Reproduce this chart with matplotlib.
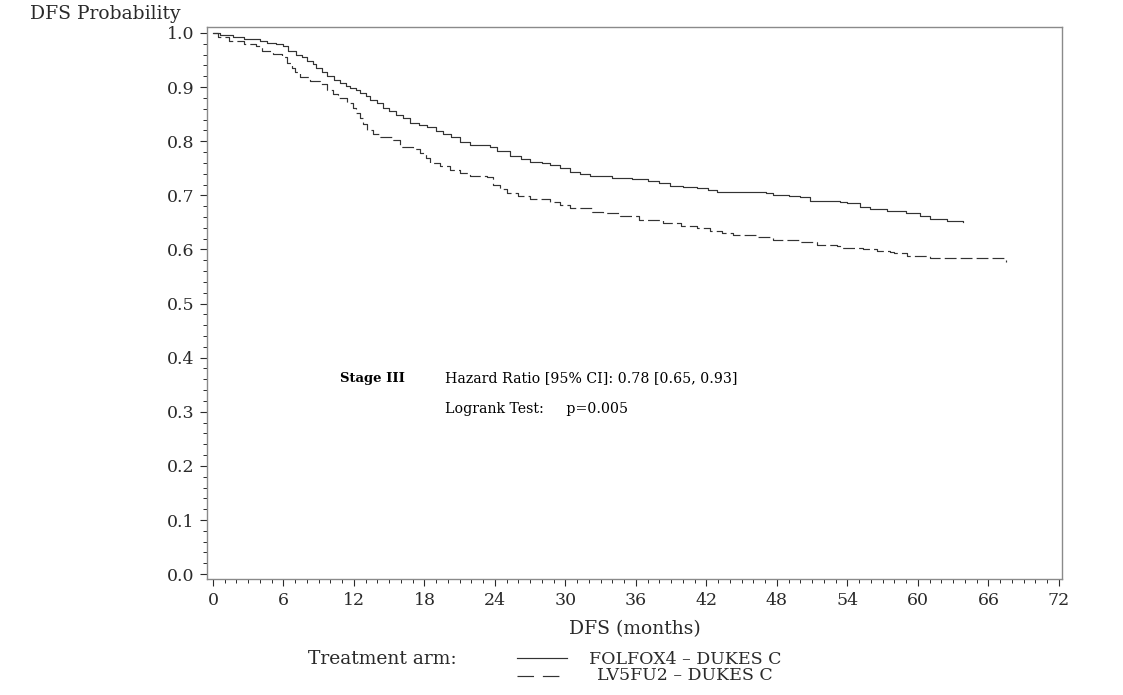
import matplotlib
matplotlib.use("Agg")
import matplotlib.pyplot as plt
from matplotlib.lines import Line2D
from matplotlib.ticker import MultipleLocator, FormatStrFormatter

# Kaplan-Meier steps (months, DFS probability)
folfox_t = [0, 0.6, 1.7, 2.6, 4.0, 4.6, 5.4, 6.0, 6.4, 7.1, 7.6, 8.0, 8.5, 8.8,
            9.3, 9.7, 10.3, 10.8, 11.3, 11.7, 12.2, 12.5, 13.0, 13.4, 14.0, 14.5,
            15.0, 15.6, 16.2, 16.8, 17.5, 18.2, 19.0, 19.6, 20.3, 21.0, 21.9, 23.6,
            24.2, 25.3, 26.2, 27.0, 28.0, 28.7, 29.5, 30.4, 31.2, 32.1, 34.0, 35.7,
            37.0, 38.0, 38.9, 40.0, 41.2, 42.1, 42.9, 44.5, 47.1, 47.7, 49.0, 50.0,
            50.8, 53.4, 54.0, 55.1, 55.9, 57.4, 59.0, 60.2, 61.0, 62.5, 63.8]
folfox_p = [1.0, 0.996, 0.993, 0.989, 0.986, 0.982, 0.979, 0.976, 0.966, 0.960,
            0.955, 0.948, 0.942, 0.936, 0.928, 0.920, 0.913, 0.907, 0.902, 0.898,
            0.894, 0.890, 0.883, 0.876, 0.870, 0.862, 0.856, 0.849, 0.842, 0.834,
            0.830, 0.826, 0.819, 0.813, 0.807, 0.799, 0.793, 0.790, 0.781, 0.772,
            0.767, 0.762, 0.759, 0.756, 0.750, 0.744, 0.739, 0.735, 0.732, 0.731,
            0.727, 0.723, 0.717, 0.715, 0.713, 0.710, 0.707, 0.706, 0.705, 0.700,
            0.699, 0.697, 0.689, 0.688, 0.685, 0.679, 0.675, 0.671, 0.667, 0.662,
            0.656, 0.652, 0.651]

lv5fu2_t = [0, 0.4, 1.4, 2.6, 3.7, 4.2, 5.1, 5.9, 6.3, 6.7, 7.0, 7.4, 8.3, 9.1,
            9.7, 10.2, 10.6, 11.4, 11.9, 12.2, 12.5, 12.8, 13.1, 13.6, 14.2, 15.3,
            15.9, 17.0, 17.6, 18.1, 18.5, 19.3, 20.2, 21.0, 21.9, 23.3, 23.8, 24.4,
            25.0, 26.0, 27.0, 28.7, 29.5, 30.4, 32.3, 33.2, 34.6, 36.3, 38.3, 39.8,
            41.2, 42.3, 43.3, 44.3, 46.3, 47.7, 50.0, 51.4, 53.1, 53.4, 55.3, 56.5,
            57.6, 58.0, 59.1, 61.0, 67.5]
lv5fu2_p = [1.0, 0.992, 0.986, 0.980, 0.976, 0.966, 0.961, 0.956, 0.944, 0.935,
            0.928, 0.919, 0.912, 0.906, 0.895, 0.887, 0.879, 0.871, 0.861, 0.852,
            0.843, 0.832, 0.821, 0.814, 0.808, 0.802, 0.790, 0.785, 0.778, 0.769,
            0.760, 0.754, 0.747, 0.741, 0.736, 0.734, 0.719, 0.712, 0.705, 0.699,
            0.693, 0.688, 0.683, 0.677, 0.670, 0.667, 0.662, 0.654, 0.648, 0.644,
            0.639, 0.635, 0.631, 0.627, 0.623, 0.617, 0.614, 0.609, 0.606, 0.603,
            0.600, 0.597, 0.596, 0.593, 0.588, 0.585, 0.577]

x_ticks = list(range(0, 73, 6))
y_ticks = [i / 10 for i in range(11)]

FONT = "DejaVu Serif"
INK = "#2a2a2a"
LINE = "#333333"
plt.rcParams["font.family"] = FONT

fig = plt.figure(figsize=(11.23, 6.95), dpi=100)
ax = fig.add_axes([0.1843, 0.1669, 0.7614, 0.7942])

ax.plot(folfox_t, folfox_p, drawstyle="steps-post", color=LINE, lw=0.85)
ax.plot(lv5fu2_t, lv5fu2_p, drawstyle="steps-post", color=LINE, lw=0.85,
        dashes=(10, 3.5))

ax.set_xlim(-0.51, 72.26)
ax.set_ylim(-0.009, 1.011)
ax.set_xticks(x_ticks)
ax.set_yticks(y_ticks)
ax.xaxis.set_minor_locator(MultipleLocator(1))
ax.yaxis.set_minor_locator(MultipleLocator(0.02))
ax.yaxis.set_major_formatter(FormatStrFormatter("%.1f"))
ax.tick_params(which="major", direction="out", length=5, width=0.8,
               colors=INK, labelsize=12.5, pad=4)
ax.tick_params(which="minor", direction="out", length=3, width=0.7, colors=INK)
for s in ax.spines.values():
    s.set_color("#8a8a8a")
    s.set_linewidth(1.0)

ax.set_xlabel("DFS (months)", fontsize=13.5, color=INK, labelpad=8)
fig.text(30 / 1123, 1 - 14 / 695, "DFS Probability", fontsize=13.5, color=INK,
         ha="left", va="center")

# annotation block
ax.text(0.156, 0.364, "Stage III", transform=ax.transAxes, fontsize=9.5,
        fontweight="bold", color="black", va="center")
ax.text(0.278, 0.364, "Hazard Ratio [95% CI]: 0.78 [0.65, 0.93]",
        transform=ax.transAxes, fontsize=10.2, color="black", va="center")
ax.text(0.278, 0.308, "Logrank Test:     p=0.005",
        transform=ax.transAxes, fontsize=10.2, color="black", va="center")

# legend drawn like the SAS footer
fig.text(308 / 1123, 1 - 659 / 695, "Treatment arm:", fontsize=13.5, color=INK,
         ha="left", va="center")
fig.add_artist(Line2D([517 / 1123, 567 / 1123], [1 - 658 / 695] * 2,
                      transform=fig.transFigure, color=LINE, lw=0.85))
fig.add_artist(Line2D([517 / 1123, 567 / 1123], [1 - 676 / 695] * 2,
                      transform=fig.transFigure, color=LINE, lw=0.85,
                      dashes=(14, 7.5)))
fig.text(685 / 1123, 1 - 659 / 695, "FOLFOX4 \u2013 DUKES C", fontsize=12.5,
         color=INK, ha="center", va="center")
fig.text(685 / 1123, 1 - 676 / 695, "LV5FU2 \u2013 DUKES C", fontsize=12.5,
         color=INK, ha="center", va="center")

fig.savefig("out.png", dpi=100, facecolor="white")
